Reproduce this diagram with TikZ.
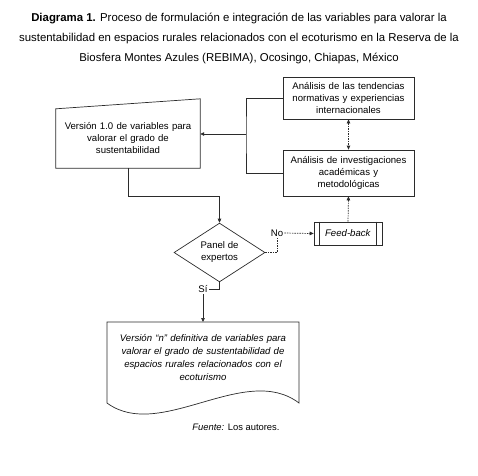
\documentclass[tikz,border=0pt]{standalone}
\usepackage{fontspec}
\setmainfont{Liberation Sans}
\usepackage{tikz}
\usetikzlibrary{arrows.meta,positioning,shapes.geometric,calc}
\definecolor{flowInk}{HTML}{2B2B2B}

\begin{document}
\begin{tikzpicture}[x=1pt, y=-1pt,
        box/.style={draw=flowInk, line width=0.7pt, rectangle, text width=127pt, align=center, inner sep=1pt, font=\fontsize{9.6}{12}\selectfont},
        plain/.style={align=center, inner sep=1pt, font=\fontsize{9.6}{12}\selectfont},
        decision/.style={draw=flowInk, line width=0.7pt, diamond, minimum width=91pt, minimum height=53pt, inner sep=0pt, align=center, font=\fontsize{9.6}{12}\selectfont},
        line/.style={draw=flowInk, line width=0.7pt},
        rel/.style={line, -{Triangle[length=4pt,width=3.5pt]}},
        dsh/.style={line, dash pattern=on 1.5pt off 1pt}
    ]
        \useasboundingbox (0,0) rectangle (478,475);

        \node[plain, font=\fontsize{11.4}{20}\selectfont] (title) at (239,38) {
            \textbf{Diagrama 1.} Proceso de formulación e integración de las variables para valorar la\\
            sustentabilidad en espacios rurales relacionados con el ecoturismo en la Reserva de la\\
            Biosfera Montes Azules (REBIMA), Ocosingo, Chiapas, México
        };

        % manual input
        \node[plain, text width=140pt, minimum width=144pt, minimum height=59pt] (v1) at (128,138.5) {
            Versión 1.0 de variables para\\valorar el grado de\\sustentabilidad
        };
        \draw[line] (v1.south west) -- (v1.north west) -- ([yshift=10pt]v1.north east) -- (v1.south east) -- cycle;

        \node[box, minimum width=131pt, minimum height=42pt] (tend) at (348.5,98) {
            Análisis de las tendencias\\normativas y experiencias\\internacionales
        };
        \node[box, minimum width=131pt, minimum height=46pt] (inv) at (348.5,173) {
            Análisis de investigaciones\\académicas y\\metodológicas
        };
        \node[box, text width=56pt, minimum width=68pt, minimum height=23pt] (feed) at (348,233.5) {
            \textit{Feed-back}
        };
        \draw[line] ([xshift=6pt]feed.north west) -- ([xshift=6pt]feed.south west);
        \draw[line] ([xshift=-6pt]feed.north east) -- ([xshift=-6pt]feed.south east);

        \node[decision] (panel) at (219.5,252.5) {Panel de\\expertos};
        \node[plain] (no) at (277,233) {No};
        \node[plain] (si) at (203,289) {Sí};

        % document
        \node[plain, text width=188pt, font=\fontsize{9.6}{12.8}\selectfont\itshape] (doc) at (203,357.5) {
            Versión “n” definitiva de variables para\\valorar el grado de sustentabilidad de\\espacios rurales relacionados con el\\ecoturismo
        };
        \coordinate (dtop) at (203,322);
        \draw[line] (107,322) -- (299,322) -- (299,403) .. controls (245,362) and (160,442) .. (107,403) -- cycle;

        \node[plain, font=\fontsize{9.4}{11}\selectfont] (src) at (236,427) {\textit{Fuente:} Los autores.};

        \coordinate (jn) at (246,134);
        \draw[line] (tend.west) -| (jn) |- (inv.west);
        \draw[rel] (jn) -- (v1.east |- jn);
        \draw[dsh, {Triangle[length=4pt,width=3.5pt]}-{Triangle[length=4pt,width=3.5pt]}] (tend) -- (inv);
        \draw[rel] (v1.south) -- ++(0,28) -| (panel.north);
        \draw[dsh] (panel.east) -| (no.south);
        \draw[dsh, -{Triangle[length=4pt,width=3.5pt]}] (no.east) -- (feed.west);
        \draw[dsh, -{Triangle[length=4pt,width=3.5pt]}] (feed.north) -- (inv.south);
        \draw[line] (panel.south) |- (si.east);
        \draw[rel] (si.south) -- (dtop);
    \end{tikzpicture}
\end{document}
